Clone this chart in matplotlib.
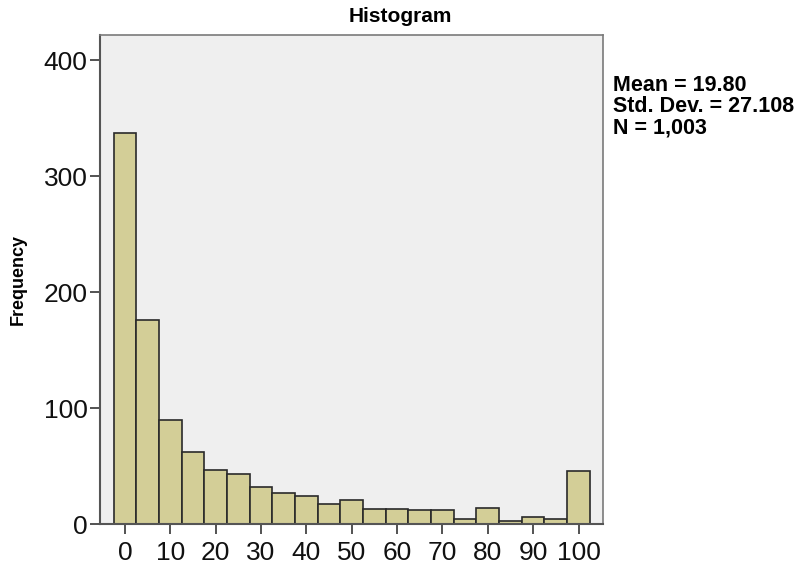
import matplotlib.pyplot as plt

plt.rcParams['font.family'] = ['Liberation Sans', 'DejaVu Sans']

# bin centres (width 5) and counts
bin_centers = [0, 5, 10, 15, 20, 25, 30, 35, 40, 45, 50,
               55, 60, 65, 70, 75, 80, 85, 90, 95, 100]
counts = [337, 176, 90, 62, 47, 43, 32, 27, 24, 17, 21,
          13, 13, 12, 12, 4, 14, 3, 6, 4, 46]
bin_width = 5
x_ticks = [0, 10, 20, 30, 40, 50, 60, 70, 80, 90, 100]
y_ticks = [0, 100, 200, 300, 400]
stats_lines = ["Mean = 19.80", "Std. Dev. = 27.108", "N = 1,003"]

BAR = "#d3ce97"
BG = "#efefef"

fig = plt.figure(figsize=(8.01, 5.65), dpi=100)
ax = fig.add_axes([100 / 801, 41 / 565, 503 / 801, 489 / 565])
ax.set_facecolor(BG)

ax.bar(bin_centers, counts, width=bin_width, color=BAR,
       edgecolor="#2a2a2a", linewidth=1.2)

ax.set_xlim(-5.5, 105.4)
ax.set_ylim(0, 422)
ax.set_xticks(x_ticks)
ax.set_yticks(y_ticks)
ax.tick_params(axis="both", direction="out", length=7, width=1.3,
               color="#444444", labelsize=19, labelcolor="#111111")
ax.tick_params(axis="x", pad=5)
ax.tick_params(axis="y", pad=2)

for side in ["top", "right"]:
    ax.spines[side].set_color("#7a7a7a")
    ax.spines[side].set_linewidth(1.2)
for side in ["left", "bottom"]:
    ax.spines[side].set_color("#555555")
    ax.spines[side].set_linewidth(1.5)

ax.set_ylabel("Frequency", fontsize=13, fontweight="bold", labelpad=12)
fig.text(0.5, 1 - 17 / 565, "Histogram", ha="center", va="center",
         fontsize=15, fontweight="bold")

fig.text(613 / 801, 1 - 75 / 565, "\n".join(stats_lines), ha="left", va="top",
         fontsize=15.5, fontweight="bold", linespacing=1.02)

fig.savefig("out.png", dpi=100, facecolor="white")
